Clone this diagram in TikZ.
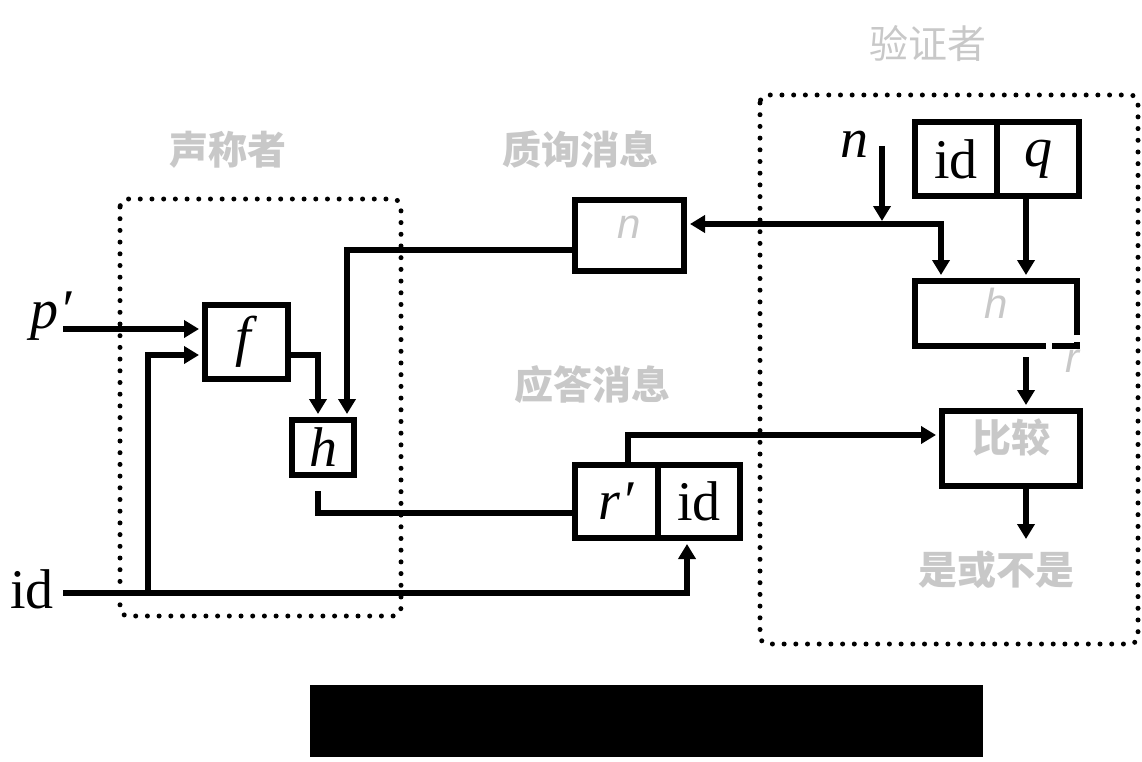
\documentclass[tikz,border=0pt]{standalone}
\usepackage{fontspec}
\setmainfont{Liberation Serif}
\newfontfamily\cjk{Noto Sans CJK SC}
\newfontfamily\gsans{Liberation Sans}
\usetikzlibrary{arrows.meta,calc}
\definecolor{lg}{RGB}{200,200,200}
\newcommand{\prm}{\kern2pt\textit{′}}
\begin{document}
\begin{tikzpicture}[x=1pt,y=-1pt,line width=6pt,
  tip/.tip={Triangle[length=15pt,width=17pt]},
  arr/.style={-tip,shorten >=3pt},
  box/.style={draw,inner sep=0pt,font=\fontsize{56}{60}\selectfont},
  big/.style={font=\fontsize{56}{60}\selectfont,inner sep=0pt},
  gtext/.style={text=lg,font=\gsans\itshape\fontsize{42}{46}\selectfont,inner sep=0pt},
  ctext/.style={text=lg,font=\cjk\bfseries\fontsize{39}{44}\selectfont,inner sep=0pt},
  dotbox/.style={line width=5pt,dash pattern=on 0pt off 11.7pt,line cap=round,rounded corners=8pt}]
\useasboundingbox (0,0) rectangle (1142,762);

% group frames
\draw[dotbox] (120,199) rectangle (401,616);
\draw[dotbox] (760,95) rectangle (1138,644);

% titles
\node[ctext,font=\cjk\fontsize{39}{44}\selectfont] (tver) at (928,44) {验证者};
\node[ctext] (tcl) at (228,150) {声称者};
\node[ctext] (tch) at (580,150) {质询消息};
\node[ctext] (tre) at (592,385) {应答消息};

% claimant
\node[big,anchor=base west] (pl) at (27,328) {\textit{p}\prm};
\node[big,anchor=base west] (idl) at (7,608) {id};
\node[box,minimum width=83pt,minimum height=74pt] (f) at (246.5,342) {\textit{f}};
\node[box,minimum width=62pt,minimum height=55pt] (h) at (323,447.5) {\textit{h}};

% messages
\node[box,minimum width=109pt,minimum height=71pt,
  label={[gtext,yshift=8pt]center:\textit{n}}] (nb) at (629.5,235.5) {};
\node[box,minimum width=83pt,minimum height=73pt] (rp) at (616.5,501.5) {\textit{r}\prm};
\node[box,minimum width=82pt,minimum height=73pt] (rid) at (699,501.5) {id};

% verifier
\node[big,anchor=base west] (nl) at (837,158) {\textit{n}};
\node[box,minimum width=82pt,minimum height=74pt] (vid) at (956,159) {id};
\node[box,minimum width=82pt,minimum height=74pt] (q) at (1038,159) {\textit{q}};
\node[inner sep=0pt,minimum width=162pt,minimum height=65pt,
  label={[gtext,yshift=10pt]center:\textit{h}}] (vh) at (996,313.5) {};
\draw (1077,335) |- (915,281) |- (1046,346);
\draw (1052,346) -| (1077,342);
\node[gtext,anchor=base west] (rl) at (1062,372) {r};
\node[box,minimum width=138pt,minimum height=75pt,
  label={[ctext,yshift=11pt]center:比较}] (cmp) at (1011,448.5) {};
\node[ctext] (yn) at (996,570) {是或不是};

% connectors
\coordinate (pin) at (63,329);
\draw[arr] (pin) -- (pin -| f.west);
\coordinate (idin) at (63,593);
\coordinate (br) at (148,593);
\draw[arr] (idin) -| ($(rid.south)+(-12,0)$);
\draw[arr] (br) |- ($(f.west)+(0,13)$);
\draw[arr] ($(f.east)+(0,13)$) -| ($(h.north)+(-5,0)$);
\draw[arr] ($(nb.west)+(0,14.5)$) -| ($(h.north)+(24,0)$);
\draw ($(h.south)+(-5,13)$) |- ($(rp.west)+(0,11.5)$);
\draw[arr] ($(rp.north)+(11.5,0)$) |- ($(cmp.west)+(0,-13.5)$);
\draw[tip-tip,shorten >=3pt,shorten <=3pt] ($(nb.east)+(0,-11.5)$) -| ($(vh.north)+(-55,0)$);
\coordinate (nin) at (882,146);
\coordinate (ntip) at (882,224);
\draw[arr] (nin) -- (ntip);
\draw[arr] ($(q.south)+(-12,0)$) -- ($(vh.north)+(30,0)$);
\coordinate (vhout) at (1026,357);
\draw[arr] (vhout) -- ($(cmp.north)+(15,0)$);
\coordinate (ynin) at (1026,542);
\draw[arr] ($(cmp.south)+(15,0)$) -- (ynin);

% redaction bar
\fill (310,685) rectangle (983,757);
\end{tikzpicture}
\end{document}
